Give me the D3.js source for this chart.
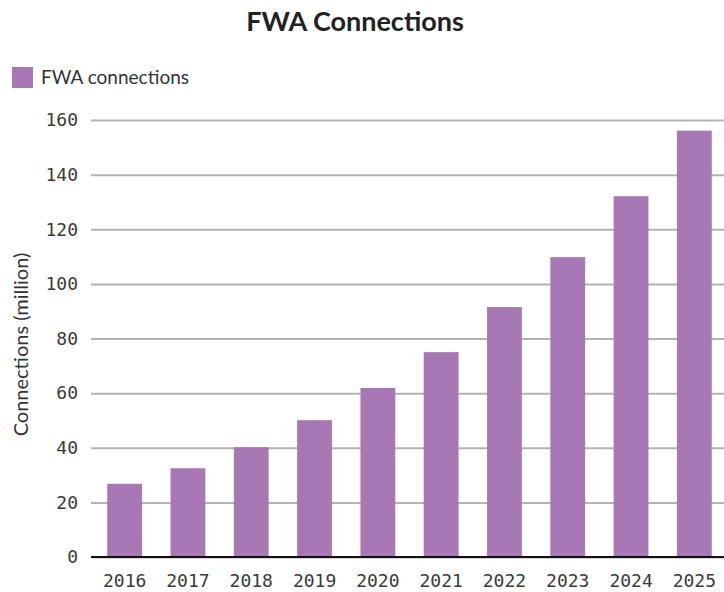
<!DOCTYPE html>
<html>
<head>
<meta charset="utf-8">
<script src="https://cdn.jsdelivr.net/npm/d3@7"></script>
<style>
  body { margin: 0; background: #fff; }
  svg { display: block; }
</style>
</head>
<body>
<div id="main"></div>
<script>
// chart data
var years = ["2016", "2017", "2018", "2019", "2020", "2021", "2022", "2023", "2024", "2025"];
var connections = [26.8, 32.5, 40.2, 50.1, 61.9, 75, 91.5, 109.8, 132.1, 156.1];
var yTicks = [0, 20, 40, 60, 80, 100, 120, 140, 160];

var w = 724, h = 592;
var margin = { top: 120, left: 91, right: 0, bottom: 35 };

var svg = d3.select("#main")
	.append("svg")
	.attr("width", w)
	.attr("height", h);

var x = d3.scaleBand()
	.domain(years)
	.range([93, 726])
	.paddingInner(0.45)
	.paddingOuter(0.225);

var y = d3.scaleLinear()
	.domain([0, 160])
	.range([h - margin.bottom, margin.top]);

// title
svg.append("text")
	.attr("x", 355)
	.attr("y", 31)
	.attr("text-anchor", "middle")
	.attr("font-family", "Lato, sans-serif")
	.attr("font-weight", "bold")
	.attr("font-size", "27px")
	.attr("fill", "#222")
	.text("FWA Connections");

// legend
svg.append("rect")
	.attr("x", 12)
	.attr("y", 67)
	.attr("width", 21)
	.attr("height", 21)
	.attr("fill", "#a878b4");
svg.append("text")
	.attr("x", 41)
	.attr("y", 84)
	.attr("font-family", "Lato, sans-serif")
	.attr("font-size", "19px")
	.attr("fill", "#333")
	.text("FWA connections");

// gridlines
var grid = svg.append("g")
	.attr("transform", "translate(" + margin.left + ",0)")
	.call(d3.axisLeft(y).tickValues(yTicks).tickSize(-(w - margin.left)).tickFormat(""));
grid.select(".domain").remove();
grid.selectAll(".tick line")
	.attr("stroke", "#b3b3b3")
	.attr("stroke-width", 2);

// tick labels
var yAxis = svg.append("g")
	.attr("transform", "translate(" + margin.left + ",0)")
	.call(d3.axisLeft(y).tickValues(yTicks).tickSize(0).tickPadding(13));
yAxis.select(".domain").remove();
yAxis.selectAll("text")
	.attr("font-family", "'DejaVu Sans Mono', monospace")
	.attr("font-size", "18px")
	.attr("fill", "#3a3a3a");

// bars
svg.selectAll(".bar")
	.data(connections)
	.enter()
	.append("rect")
	.attr("class", "bar")
	.attr("x", function(d, i) { return x(years[i]); })
	.attr("y", function(d) { return y(d); })
	.attr("width", x.bandwidth())
	.attr("height", function(d) { return y(0) - y(d); })
	.attr("fill", "#a878b4");

// x axis
var xAxis = svg.append("g")
	.attr("transform", "translate(0," + y(0) + ")")
	.call(d3.axisBottom(x).tickSize(0).tickPadding(17));
xAxis.select(".domain").remove();
xAxis.selectAll("text")
	.attr("font-family", "'DejaVu Sans Mono', monospace")
	.attr("font-size", "18px")
	.attr("fill", "#3a3a3a");

svg.append("line")
	.attr("x1", margin.left)
	.attr("x2", w)
	.attr("y1", y(0))
	.attr("y2", y(0))
	.attr("stroke", "#111")
	.attr("stroke-width", 2);

// y title
svg.append("text")
	.attr("transform", "translate(28," + ((y(0) + y(160)) / 2 + 6) + ") rotate(-90)")
	.attr("text-anchor", "middle")
	.attr("font-family", "Lato, sans-serif")
	.attr("font-size", "20px")
	.attr("fill", "#333")
	.text("Connections (million)");
</script>
</body>
</html>
